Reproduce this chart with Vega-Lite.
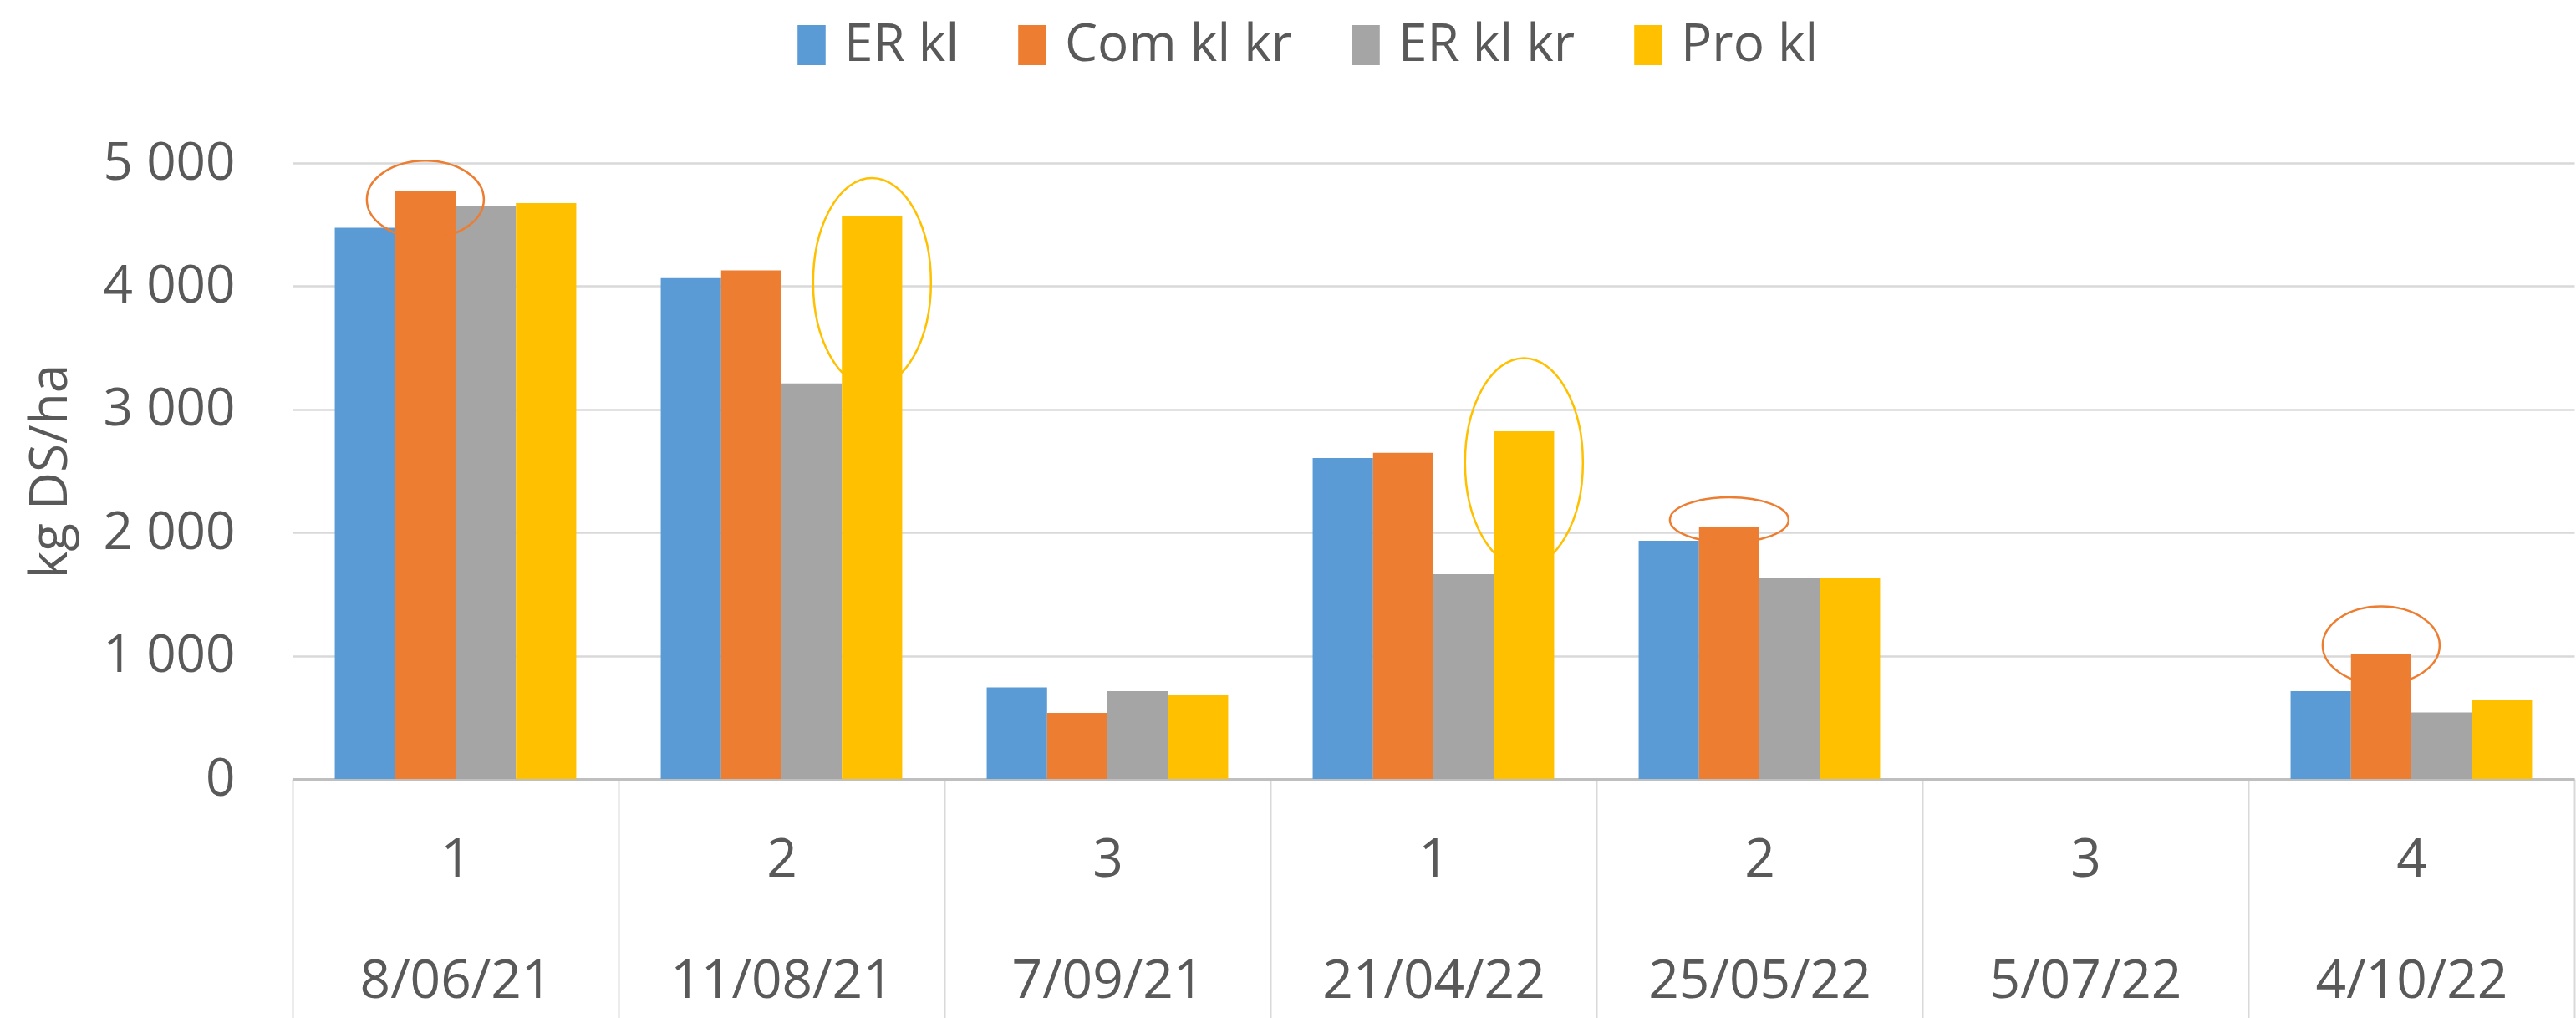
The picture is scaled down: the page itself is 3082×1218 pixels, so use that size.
{
  "$schema": "https://vega.github.io/schema/vega-lite/v6.json",
  "width": 2730,
  "height": 737,
  "autosize": {"type": "none"},
  "padding": {"left": 350, "top": 195, "right": 2, "bottom": 286},
  "background": "white",
  "config": {
    "view": {"stroke": null},
    "font": "Open Sans"
  },
  "datasets": {
    "bars": [
      {"sample": "1|8/06/21", "series": "ER kl", "value": 4475},
      {"sample": "1|8/06/21", "series": "Com kl kr", "value": 4776},
      {"sample": "1|8/06/21", "series": "ER kl kr", "value": 4647},
      {"sample": "1|8/06/21", "series": "Pro kl", "value": 4674},
      {"sample": "2|11/08/21", "series": "ER kl", "value": 4066},
      {"sample": "2|11/08/21", "series": "Com kl kr", "value": 4128},
      {"sample": "2|11/08/21", "series": "ER kl kr", "value": 3211},
      {"sample": "2|11/08/21", "series": "Pro kl", "value": 4572},
      {"sample": "3|7/09/21", "series": "ER kl", "value": 743},
      {"sample": "3|7/09/21", "series": "Com kl kr", "value": 536},
      {"sample": "3|7/09/21", "series": "ER kl kr", "value": 712},
      {"sample": "3|7/09/21", "series": "Pro kl", "value": 685},
      {"sample": "1|21/04/22", "series": "ER kl", "value": 2605},
      {"sample": "1|21/04/22", "series": "Com kl kr", "value": 2647},
      {"sample": "1|21/04/22", "series": "ER kl kr", "value": 1662},
      {"sample": "1|21/04/22", "series": "Pro kl", "value": 2822},
      {"sample": "2|25/05/22", "series": "ER kl", "value": 1933},
      {"sample": "2|25/05/22", "series": "Com kl kr", "value": 2042},
      {"sample": "2|25/05/22", "series": "ER kl kr", "value": 1630},
      {"sample": "2|25/05/22", "series": "Pro kl", "value": 1635},
      {"sample": "4|4/10/22", "series": "ER kl", "value": 712},
      {"sample": "4|4/10/22", "series": "Com kl kr", "value": 1013},
      {"sample": "4|4/10/22", "series": "ER kl kr", "value": 539},
      {"sample": "4|4/10/22", "series": "Pro kl", "value": 644}
    ],
    "rings": [
      {"sample": "1|8/06/21", "series": "Com kl kr", "center": 4703, "ring": "wide"},
      {"sample": "2|11/08/21", "series": "Pro kl", "center": 4030, "ring": "tall"},
      {"sample": "1|21/04/22", "series": "Pro kl", "center": 2568, "ring": "tall"},
      {"sample": "2|25/05/22", "series": "Com kl kr", "center": 2103, "ring": "flat"},
      {"sample": "4|4/10/22", "series": "Com kl kr", "center": 1085, "ring": "wide"}
    ]
  },
  "encoding": {
    "x": {
      "field": "sample",
      "type": "nominal",
      "sort": null,
      "scale": {
        "domain": ["1|8/06/21", "2|11/08/21", "3|7/09/21", "1|21/04/22", "2|25/05/22", "3|5/07/22", "4|4/10/22"],
        "paddingInner": 0,
        "paddingOuter": 0
      },
      "axis": {
        "title": null,
        "labelExpr": "datum.value ? split(datum.value, '|') : ''",
        "labelAngle": 0,
        "labelFont": "Open Sans",
        "labelFontSize": 64,
        "labelColor": "#595959",
        "labelLineHeight": 145,
        "labelBaseline": "middle",
        "labelPadding": -189,
        "labelOverlap": false,
        "labelBound": false,
        "labelLimit": 0,
        "tickBand": "extent",
        "tickSize": 286,
        "tickColor": "#d9d9d9",
        "tickWidth": 2,
        "domainColor": "#bfbfbf",
        "domainWidth": 3,
        "grid": false
      }
    },
    "xOffset": {
      "field": "series",
      "type": "nominal",
      "sort": ["ER kl", "Com kl kr", "ER kl kr", "Pro kl"],
      "scale": {"domain": ["ER kl", "Com kl kr", "ER kl kr", "Pro kl"], "paddingInner": 0, "paddingOuter": 0.7}
    }
  },
  "layer": [
    {
      "data": {"name": "bars"},
      "mark": {"type": "bar"},
      "encoding": {
        "y": {
          "field": "value",
          "type": "quantitative",
          "scale": {"domain": [0, 5000], "nice": false},
          "axis": {
            "title": "kg DS/ha",
            "titleFont": "Open Sans",
            "titleFontSize": 62,
            "titleFontWeight": "normal",
            "titleColor": "#595959",
            "titleX": -290,
            "titleBaseline": "middle",
            "values": [0, 1000, 2000, 3000, 4000, 5000],
            "labelExpr": "replace(format(datum.value, ','), ',', ' ')",
            "labelFont": "Open Sans",
            "labelFontSize": 62,
            "labelColor": "#595959",
            "labelPadding": 69,
            "ticks": false,
            "domain": false,
            "grid": true,
            "gridColor": "#d9d9d9",
            "gridWidth": 2.5
          }
        },
        "color": {
          "field": "series",
          "type": "nominal",
          "sort": ["ER kl", "Com kl kr", "ER kl kr", "Pro kl"],
          "scale": {
            "domain": ["ER kl", "Com kl kr", "ER kl kr", "Pro kl"],
            "range": ["#5B9BD5", "#ED7D31", "#A5A5A5", "#FFC000"]
          },
          "legend": {
            "title": null,
            "orient": "none",
            "direction": "horizontal",
            "legendX": 590,
            "legendY": -172,
            "padding": 0,
            "symbolType": "M -0.7 -1 H 0.7 V 1 H -0.7 Z",
            "symbolSize": 2300,
            "symbolStrokeWidth": 0,
            "labelFont": "Open Sans",
            "labelFontSize": 62,
            "labelColor": "#595959",
            "labelOffset": 8,
            "columnPadding": 56,
            "labelLimit": 0
          }
        }
      }
    },
    {
      "data": {"name": "rings"},
      "mark": {"type": "point", "filled": false, "strokeWidth": 2.5, "opacity": 1, "size": 62500},
      "encoding": {
        "y": {"field": "center", "type": "quantitative"},
        "stroke": {
          "field": "series",
          "type": "nominal",
          "scale": {
            "domain": ["ER kl", "Com kl kr", "ER kl kr", "Pro kl"],
            "range": ["#5B9BD5", "#ED7D31", "#A5A5A5", "#FFC000"]
          },
          "legend": null
        },
        "shape": {
          "field": "ring",
          "type": "nominal",
          "scale": {
            "domain": ["wide", "tall", "flat"],
            "range": [
              "M -0.56 0 A 0.56 0.372 0 1 0 0.56 0 A 0.56 0.372 0 1 0 -0.56 0 Z",
              "M -0.564 0 A 0.564 1 0 1 0 0.564 0 A 0.564 1 0 1 0 -0.564 0 Z",
              "M -0.568 0 A 0.568 0.216 0 1 0 0.568 0 A 0.568 0.216 0 1 0 -0.568 0 Z"
            ]
          },
          "legend": null
        }
      }
    }
  ]
}
